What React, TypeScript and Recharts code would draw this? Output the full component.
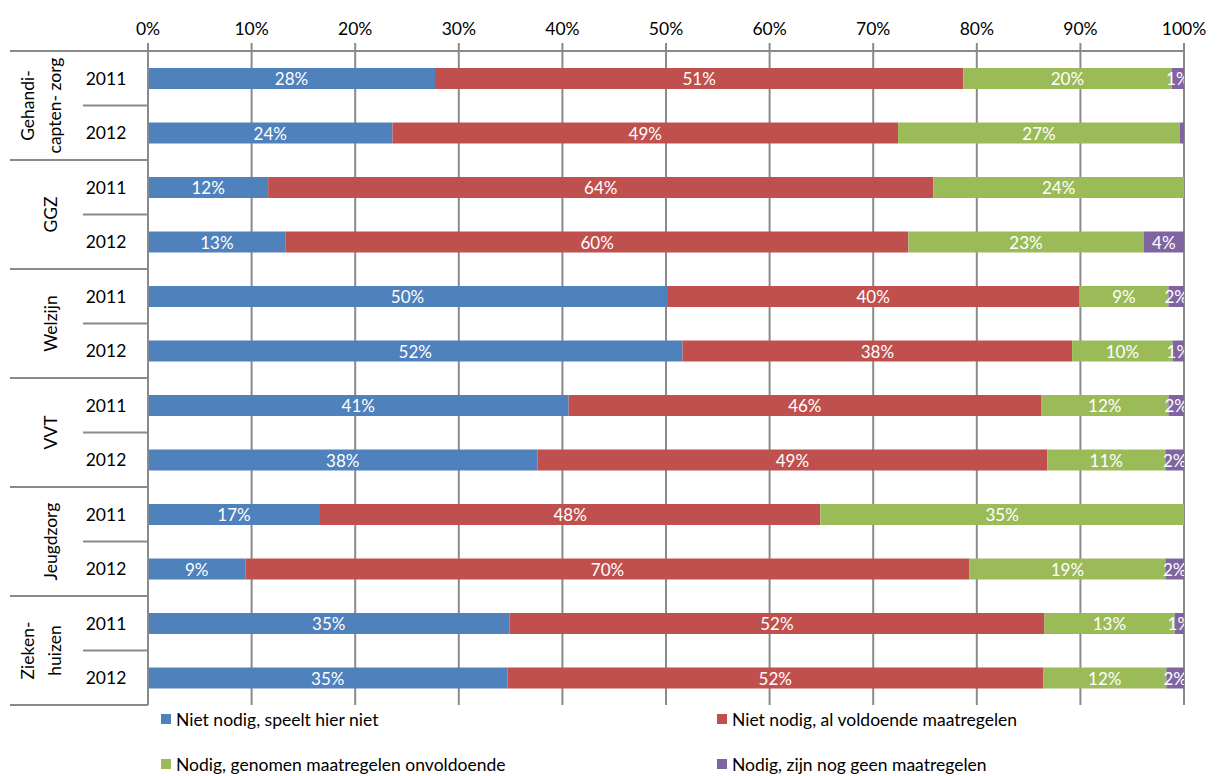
import React from 'react';
import { BarChart, Bar, XAxis, YAxis, CartesianGrid, LabelList, Legend } from 'recharts';

const groupLabels: string[][] = [
  ['Gehandi-', 'capten- zorg'],
  ['GGZ'],
  ['Welzijn'],
  ['VVT'],
  ['Jeugdzorg'],
  ['Zieken-', 'huizen'],
];
const years = ['2011', '2012'];

const seriesNames = [
  'Niet nodig, speelt hier niet',
  'Niet nodig, al voldoende maatregelen',
  'Nodig, genomen maatregelen onvoldoende',
  'Nodig, zijn nog geen maatregelen',
];
const seriesColors = ['#4F81BD', '#C0504D', '#9BBB59', '#8064A2'];

const nietSpeelt = [27.7, 23.6, 11.6, 13.3, 50.1, 51.6, 40.6, 37.6, 16.6, 9.4, 34.9, 34.7];
const nietVoldoende = [51.0, 48.8, 64.2, 60.1, 39.8, 37.6, 45.6, 49.2, 48.3, 69.9, 51.6, 51.7];
const onvoldoende = [20.1, 27.2, 24.2, 22.7, 8.6, 9.7, 12.3, 11.4, 35.1, 18.9, 12.6, 11.9];
const geen = [1.2, 0.4, 0, 3.9, 1.5, 1.1, 1.5, 1.8, 0, 1.8, 0.9, 1.7];

const xTicks = [0, 10, 20, 30, 40, 50, 60, 70, 80, 90, 100];

const seriesValues = [nietSpeelt, nietVoldoende, onvoldoende, geen];
const seriesKeys = ['s0', 's1', 's2', 's3'];

const data = nietSpeelt.map((_, i) => {
  const row: any = {
    id: `r${i}`,
    year: years[i % 2],
    group: Math.floor(i / 2),
  };
  seriesKeys.forEach((k, s) => {
    row[k] = seriesValues[s][i];
  });
  return row;
});

const FONT = 'Lato, "Open Sans", sans-serif';
const GRID = '#8a8a8a';
const W = 1220;
const H = 776;
const LEGEND_H = 70;
const M = { top: 21, right: 36, bottom: 1, left: 0 };
const YAXIS_W = 148;

const CatTick = (props: any) => {
  const { x, y, payload, index } = props;
  const i = typeof index === 'number' ? index : data.findIndex((d) => d.id === payload.value);
  const ax = Number(x);
  const cy = Number(y);
  const half = payload && payload.offset ? payload.offset : (H - M.top - 30 - M.bottom - LEGEND_H) / data.length / 2;
  const row = data[i];
  const first = i % 2 === 0;
  const lines = groupLabels[row.group];
  const groupCy = cy + half;
  return (
    <g>
      <text x={ax - 42} y={cy} textAnchor="middle" dominantBaseline="central" fontSize={17.5} fontFamily={FONT} fill="#000">
        {row.year}
      </text>
      {first ? (
        <line x1={ax - 138} x2={ax} y1={cy - half} y2={cy - half} stroke={GRID} strokeWidth={2} />
      ) : (
        <line x1={ax - 65} x2={ax} y1={cy - half} y2={cy - half} stroke={GRID} strokeWidth={2} />
      )}
      {i === data.length - 1 && (
        <line x1={ax - 138} x2={ax} y1={cy + half} y2={cy + half} stroke={GRID} strokeWidth={2} />
      )}
      {first &&
        lines.map((ln, k) => {
          const lx = lines.length === 1 ? ax - 98 : ax - 121 + k * 27;
          return (
            <text
              key={k}
              x={lx}
              y={groupCy}
              transform={`rotate(-90 ${lx} ${groupCy})`}
              textAnchor="middle"
              dominantBaseline="central"
              fontSize={17.5}
              fontFamily={FONT}
              fill="#000"
            >
              {ln}
            </text>
          );
        })}
    </g>
  );
};

const makeLabel = (clipRight: boolean, sIdx: number) => (props: any) => {
  const { x, y, width, height, value, index } = props;
  const v = Number(value);
  const r = Math.round(v);
  if (!v || r < 1) return null;
  const bx = Number(x);
  const by = Number(y);
  const bw = Number(width);
  const bh = Number(height);
  const cx = bx + bw / 2;
  const cy = by + bh / 2;
  const id = `lblclip-${sIdx}-${index}`;
  return (
    <g>
      {clipRight && (
        <defs>
          <clipPath id={id}>
            <rect x={bx - 200} y={by - 5} width={bw + 200} height={bh + 10} />
          </clipPath>
        </defs>
      )}
      <text
        x={cx}
        y={cy}
        textAnchor="middle"
        dominantBaseline="central"
        fill="#fff"
        fontSize={17}
        fontFamily={FONT}
        clipPath={clipRight ? `url(#${id})` : undefined}
      >
        {r}%
      </text>
    </g>
  );
};

const LegendBox = () => {
  const cols = [161, 717];
  const rows = [14, 59];
  return (
    <div style={{ position: 'relative', width: W, height: LEGEND_H, fontFamily: FONT, fontSize: 17.5 }}>
      {seriesNames.map((name, i) => {
        const left = cols[i % 2];
        const top = rows[Math.floor(i / 2)];
        return (
          <div key={name} style={{ position: 'absolute', left, top: top - 11, height: 22, display: 'flex', alignItems: 'center', whiteSpace: 'nowrap', color: '#000' }}>
            <span style={{ display: 'inline-block', width: 10, height: 10, background: seriesColors[i], marginRight: 5 }} />
            <span>{name}</span>
          </div>
        );
      })}
    </div>
  );
};

export default function App() {
  return (
    <div style={{ position: 'absolute', left: 0, top: 0, width: W, height: H, background: '#fff' }}>
      <BarChart width={W} height={H} data={data} layout="vertical" margin={M} barSize={21}>
        <CartesianGrid horizontal={false} vertical stroke={GRID} strokeWidth={2} />
        <XAxis
          type="number"
          orientation="top"
          domain={[0, 100]}
          ticks={xTicks}
          interval={0}
          height={30}
          tickFormatter={(v: number) => `${v}%`}
          axisLine={{ stroke: GRID, strokeWidth: 2 }}
          tickLine={{ stroke: GRID, strokeWidth: 2 }}
          tickSize={8}
          tickMargin={8}
          tick={{ fill: '#000', fontSize: 17.5, fontFamily: FONT }}
          allowDataOverflow
        />
        <YAxis
          type="category"
          dataKey="id"
          width={YAXIS_W}
          interval={0}
          tickLine={false}
          tickSize={0}
          tickMargin={0}
          axisLine={{ stroke: GRID, strokeWidth: 2 }}
          tick={<CatTick />}
        />
        <Legend verticalAlign="bottom" align="left" content={() => <LegendBox />} wrapperStyle={{ height: LEGEND_H, left: 0, width: W }} />
        {seriesKeys.map((k, s) => (
          <Bar key={k} dataKey={k} stackId="a" fill={seriesColors[s]} isAnimationActive={false} name={seriesNames[s]}>
            <LabelList dataKey={k} content={makeLabel(s === 3, s)} />
          </Bar>
        ))}
      </BarChart>
    </div>
  );
}
